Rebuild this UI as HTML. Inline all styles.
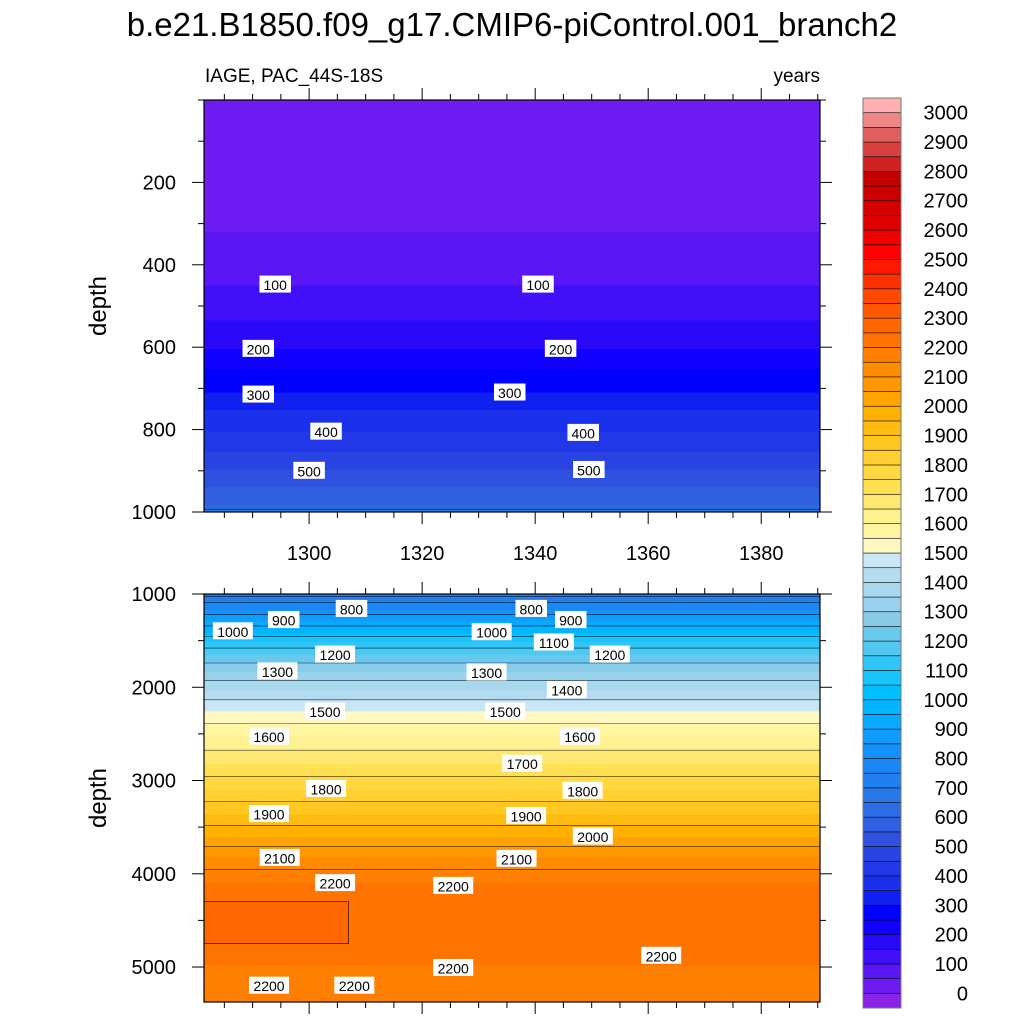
<!DOCTYPE html>
<html><head><meta charset="utf-8"><style>
body{margin:0;background:#fff;}
svg{display:block;font-family:"Liberation Sans",sans-serif;}
</style></head><body>
<svg id="c" width="1024" height="1024" viewBox="0 0 1024 1024"></svg>
<script>
// ---- data ----
const profDepth=[0,320,448,533,604,655,710,752,805,853,897,940,982,1000,1160,1280,1405,1510,1650,1830,2020,2250,2530,2820,3090,3360,3600,3820,4090,4500,4980,5150,5375];
const profAge  =[10,50,100,150,200,250,300,350,400,450,500,550,600,680,800,900,1000,1100,1200,1300,1400,1500,1600,1700,1800,1900,2000,2100,2200,2235,2200,2185,2165];
const patchYears=[1281.4,1307];
const patchDepths=[4300,4750];
const patchAge=[2260];
const labYear=[1294,1340.5,1291,1344.5,1291,1335.5,1303,1348.5,1300,1349.5,
 1307.5,1339.3,1295.5,1346.3,1286.5,1332.3,1343.3,1304.6,1353.2,1294.4,1331.4,1345.6,1302.8,1334.7,1292.9,1347.9,1337.7,1303,1348.4,1292.9,1338.4,1350.2,1294.8,1336.7,1304.6,1325.5,1325.5,1362.3,1292.9,1308];
const labDepth=[448,448,604,604,715,710,805,808,900,898,
 1160,1160,1280,1280,1400,1410,1520,1650,1650,1830,1840,2030,2260,2260,2530,2530,2820,3090,3110,3360,3380,3600,3830,3840,4100,4130,5010,4880,5200,5200];
const labText=["100","100","200","200","300","300","400","400","500","500",
 "800","800","900","900","1000","1000","1100","1200","1200","1300","1300","1400","1500","1500","1600","1600","1700","1800","1800","1900","1900","2000","2100","2100","2200","2200","2200","2200","2200","2200"];
const xTicks=[1300,1320,1340,1360,1380];
const topYTicks=[200,400,600,800,1000];
const botYTicks=[1000,2000,3000,4000,5000];
const cbLabels=[];for(let v=0;v<=3000;v+=100)cbLabels.push(v);
const palette=["#8a22e8","#6c1cf0","#5a16f4","#4210f8","#2a08fa","#1000ff","#0000ff","#1020f0","#1a30ec","#2238e8","#2a44e4","#3050e0","#3060e0","#2c6ce6","#2878ea","#2080f0","#1a88f4","#1490f8","#109cfc","#0aa8ff","#00b4ff","#00c0ff","#18c4fc","#30c4f8","#50c8f0","#68c8ee","#88cce8","#98d2ec","#a8d8ee","#b4dcf0","#c8e6f6","#fff8c0","#fff4a0","#fff090","#ffe870","#ffe050","#ffd840","#ffd030","#ffc820","#ffbc10","#ffb000","#ffa400","#ff9800","#ff8c00","#ff8000","#ff7400","#ff6800","#ff5800","#ff4800","#ff3000","#ff1800","#ff0000","#f00000","#e00000","#d40000","#cc0000","#c40000","#d02020","#d84040","#e06060","#f08888","#ffb0b0"];
// ---- helpers ----
const S=document.getElementById('c'),NS='http://www.w3.org/2000/svg';
function mk(t,a,p){const e=document.createElementNS(NS,t);for(const k in a)e.setAttribute(k,a[k]);(p||S).appendChild(e);return e;}
const X0=204,X1=820,Y0=1281.4,Y1=1390.4;
const xs=y=>X0+(y-Y0)/(Y1-Y0)*(X1-X0);
const panels=[{d0:0,d1:1000,top:100,bot:512},{d0:1000,d1:5375,top:594,bot:1002}];
const ysf=p=>d=>p.top+(d-p.d0)/(p.d1-p.d0)*(p.bot-p.top);
function colorOf(a){let i=Math.floor(a/50)+1;i=Math.max(0,Math.min(palette.length-1,i));return palette[i];}
function ageAt(d){for(let i=0;i<profDepth.length-1;i++){if(d<=profDepth[i+1]){const t=(d-profDepth[i])/(profDepth[i+1]-profDepth[i]);return profAge[i]+t*(profAge[i+1]-profAge[i]);}}return profAge[profAge.length-1];}
function txt(x,y,s,sz,anc,name,extra){const e=mk('text',Object.assign({x:x,y:y,'font-size':sz,'text-anchor':anc||'middle',fill:'#000'},extra||{}));e.textContent=s;return e;}

panels.forEach((p,pi)=>{
  const ys=ysf(p);
  const g=mk('g',{});
  
  
  const step=(p.d1-p.d0)/400;
  let start=p.d0,cur=colorOf(ageAt(p.d0));
  for(let d=p.d0;d<=p.d1+1e-6;d+=step){
    const c=colorOf(ageAt(Math.min(d,p.d1)));
    if(c!==cur||d>=p.d1-1e-6){
      const r=mk('rect',{x:X0,y:ys(start),width:X1-X0,height:ys(Math.min(d,p.d1))-ys(start)+0.5,fill:cur},g);
      
      
      start=d;cur=c;
    }
  }
  if(pi===1){
    const r=mk('rect',{x:xs(patchYears[0]),y:ys(patchDepths[0]),width:xs(patchYears[1])-xs(patchYears[0]),height:ys(patchDepths[1])-ys(patchDepths[0]),fill:colorOf(patchAge[0]),stroke:'#000','stroke-width':0.6},g);
    
    
  }
  for(let i=0;i<profDepth.length-1;i++){
    const a0=profAge[i],a1=profAge[i+1];
    const lo=Math.min(a0,a1),hi=Math.max(a0,a1);
    for(let L=Math.ceil(lo/50)*50;L<hi;L+=50){
      if(L===lo&&i>0)continue;
      const d=profDepth[i]+(L-a0)/(a1-a0)*(profDepth[i+1]-profDepth[i]);
      if(d<=p.d0||d>=p.d1)continue;
      const l=mk('line',{x1:X0,x2:X1,y1:ys(d),y2:ys(d),stroke:'#000','stroke-width':0.6,'stroke-opacity':0.8},g);
      
      
    }
  }
  const fr=mk('rect',{x:X0,y:p.top,width:X1-X0,height:p.bot-p.top,fill:'none',stroke:'#000','stroke-width':1.2},g);
  
  
  for(let yr=1285;yr<=1390;yr+=5){
    const x=xs(yr),maj=yr%20===0,len=maj?12:6;
    mk('line',{x1:x,x2:x,y1:p.top,y2:p.top-len,stroke:'#000','stroke-width':1},g);
    mk('line',{x1:x,x2:x,y1:p.bot,y2:p.bot+len,stroke:'#000','stroke-width':1},g);
  }
  const yt=pi?botYTicks:topYTicks;
  const mstep=pi?500:100;
  for(let d=Math.ceil(p.d0/mstep)*mstep;d<=p.d1;d+=mstep){
    const y=ys(d),maj=yt.includes(d),len=maj?12:6;
    mk('line',{x1:X0,x2:X0-len,y1:y,y2:y,stroke:'#000','stroke-width':1},g);
    mk('line',{x1:X1,x2:X1+len,y1:y,y2:y,stroke:'#000','stroke-width':1},g);
  }
  yt.forEach(d=>txt(X0-28,ys(d)+7,String(d),20,'end','y-tick-label'));
  txt(98,(p.top+p.bot)/2,'depth',24,'middle','y-axis-title',{transform:`rotate(-90 98 ${(p.top+p.bot)/2})`,dy:'8'});
});
xTicks.forEach(yr=>txt(xs(yr),560,String(yr),20,'middle','x-tick-label'));
labText.forEach((s,i)=>{
  const p=i<10?panels[0]:panels[1];
  const x=xs(labYear[i]),y=ysf(p)(labDepth[i]);
  const w=s.length*8.5+6;
  const r=mk('rect',{x:x-w/2,y:y-9,width:w,height:17,fill:'#fff'});
  
  
  txt(x,y+5.5,s,14,'middle','contour-label');
});
txt(512,36,'b.e21.B1850.f09_g17.CMIP6-piControl.001_branch2',33,'middle','chart-title');
txt(205,82,'IAGE, PAC_44S-18S',19,'start','subtitle-left');
txt(820,82,'years',19,'end','subtitle-right');
const cbTop=98,cbBot=1008,cbH=(cbBot-cbTop)/palette.length;
const cb=mk('g',{});


palette.forEach((c,i)=>{
  const r=mk('rect',{x:863,y:cbBot-(i+1)*cbH,width:38,height:cbH,fill:c,stroke:'#000','stroke-width':0.7,'stroke-opacity':0.7},cb);
  
  
});
mk('rect',{x:863,y:cbTop,width:38,height:cbBot-cbTop,fill:'none',stroke:'#777','stroke-width':1},cb);
cbLabels.forEach(v=>{
  const y=cbBot-cbH-v/50*cbH;
  txt(968,y+7,String(v),20,'end','colorbar-label');
});
</script>
</body></html>
